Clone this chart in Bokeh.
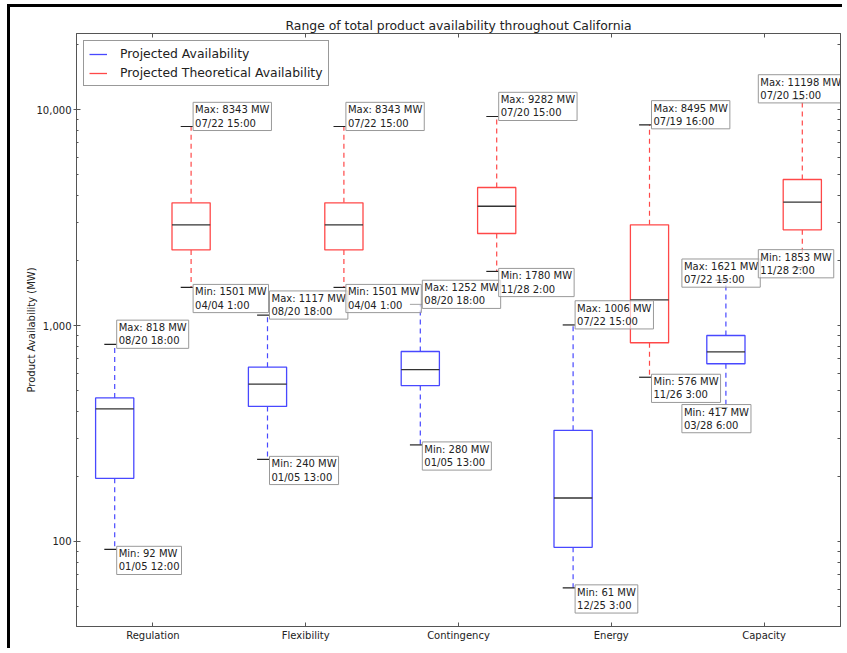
from bokeh.plotting import figure
from bokeh.models import (ColumnDataSource, Range1d, LogAxis, LinearAxis, InlineStyleSheet,
                          Legend, LegendItem, FixedTicker, NumeralTickFormatter)
from bokeh.core.properties import value
from bokeh.embed import file_html
from bokeh.resources import INLINE

# ---------------- data ----------------
categories = ["Regulation", "Flexibility", "Contingency", "Energy", "Capacity"]

avail_min = [92, 240, 280, 61, 417]
avail_q1 = [196, 422, 527, 94, 665]
avail_med = [411, 535, 625, 159, 755]
avail_q3 = [462, 641, 758, 327, 899]
avail_max = [818, 1117, 1252, 1006, 1621]
avail_min_time = ["01/05 12:00", "01/05 13:00", "01/05 13:00", "12/25 3:00", "03/28 6:00"]
avail_max_time = ["08/20 18:00", "08/20 18:00", "08/20 18:00", "07/22 15:00", "07/22 15:00"]

theo_min = [1501, 1501, 1780, 576, 1853]
theo_q1 = [2239, 2239, 2667, 832, 2774]
theo_med = [2925, 2925, 3565, 1315, 3725]
theo_q3 = [3698, 3698, 4355, 2925, 4742]
theo_max = [8343, 8343, 9282, 8495, 11198]
theo_min_time = ["04/04 1:00", "04/04 1:00", "11/28 2:00", "11/26 3:00", "11/28 2:00"]
theo_max_time = ["07/22 15:00", "07/22 15:00", "07/20 15:00", "07/19 16:00", "07/20 15:00"]

y_ticks = [100, 1000, 10000]
series_names = ["Projected Availability", "Projected Theoretical Availability"]

# ---------------- styling ----------------
FONT = "DejaVu Sans"
BLUE = "#4848ff"
RED = "#ff4848"
AX = "#555555"
TXT = "#222222"

positions = [i + 1 for i in range(len(categories))]

p = figure(width=835, height=644,
           x_range=Range1d(0.5, len(categories) + 0.5),
           y_range=Range1d(40.4, 22490), y_axis_type="log",
           output_backend="svg", toolbar_location=None,
           min_border_left=66, min_border_right=5, min_border_top=26, min_border_bottom=25,
           title="Range of total product availability throughout California")
# dark frame along the top and left edges of the picture
p.stylesheets = [InlineStyleSheet(css=":host { margin-left: 7px; margin-top: 4px; "
                                      "border-top: 3px solid black; border-left: 3px solid black; }")]

p.title.align = "center"
p.title.text_font = FONT
p.title.text_font_size = "12.4px"
p.title.text_font_style = "normal"
p.title.text_color = TXT
p.title.standoff = 2

p.grid.visible = False
p.outline_line_color = AX
p.outline_line_width = 1
p.background_fill_color = "white"
p.border_fill_color = "white"

minor = [m * 10 ** e for e in (1, 2, 3, 4) for m in range(2, 10)]

# left axis
ya = p.yaxis[0]
ya.ticker = FixedTicker(ticks=y_ticks, minor_ticks=minor)
ya.formatter = NumeralTickFormatter(format="0,0")
ya.axis_label = "Product Availability (MW)"
ya.axis_label_text_font = FONT
ya.axis_label_text_font_size = "10px"
ya.axis_label_text_font_style = "normal"
ya.axis_label_text_color = TXT
ya.axis_label_standoff = -3
ya.major_label_text_font = FONT
ya.major_label_text_font_size = "10px"
ya.major_label_text_color = TXT
ya.major_label_standoff = 2
ya.major_tick_in = 4
ya.major_tick_out = 3
ya.minor_tick_in = 2
ya.minor_tick_out = 0
ya.axis_line_color = AX
ya.major_tick_line_color = AX
ya.minor_tick_line_color = AX

# bottom axis
xa = p.xaxis[0]
xa.ticker = FixedTicker(ticks=positions, minor_ticks=[])
xa.major_label_overrides = {pos: c for pos, c in zip(positions, categories)}
xa.major_label_text_font = FONT
xa.major_label_text_font_size = "10px"
xa.major_label_text_color = TXT
xa.major_label_standoff = 3
xa.major_tick_in = 4
xa.major_tick_out = 0
xa.axis_line_color = AX
xa.major_tick_line_color = AX

# right axis (ticks only, no labels)
ra = LogAxis(ticker=FixedTicker(ticks=[], minor_ticks=minor + y_ticks),
             minor_tick_in=3, minor_tick_out=0,
             axis_line_color=AX, minor_tick_line_color=AX)
p.add_layout(ra, "right")

# top axis (ticks only, no labels)
ta = LinearAxis(ticker=FixedTicker(ticks=[], minor_ticks=positions),
                minor_tick_in=4, minor_tick_out=0,
                axis_line_color=AX, minor_tick_line_color=AX)
p.add_layout(ta, "above")

series = [
    (-0.25, BLUE, avail_min, avail_q1, avail_med, avail_q3, avail_max, avail_min_time, avail_max_time),
    (0.25, RED, theo_min, theo_q1, theo_med, theo_q3, theo_max, theo_min_time, theo_max_time),
]

BOX_W = 0.25
sources = []
legend_items = []
for (off, color, mn, q1, md, q3, mx, tmin, tmax), name in zip(series, series_names):
    xs = [x + off for x in positions]
    # label placement: shift labels left near the right edge
    dx = [-44 if c == "Capacity" else 2 for c in categories]
    dy_max = [7 if (c == "Capacity" and off < 0) else 4 for c in categories]
    dy_min = [-18 if (c == "Capacity" and off > 0) else -3 for c in categories]
    src = ColumnDataSource(dict(
        x=xs,
        cap_l=[x - 0.068 for x in xs], cap_r=[x + 0.012 for x in xs],
        med_l=[x - BOX_W / 2 for x in xs], med_r=[x + BOX_W / 2 for x in xs],
        lo=mn, q1=q1, med=md, q3=q3, hi=mx,
        max_label=[f"Max: {v} MW\n{t}" for v, t in zip(mx, tmax)],
        min_label=[f"Min: {v} MW\n{t}" for v, t in zip(mn, tmin)],
        dx=dx, dy_max=dy_max, dy_min=dy_min,
    ))
    sources.append(src)
    # whiskers
    p.segment(x0="x", y0="q3", x1="x", y1="hi", line_color=color, line_width=1.2,
              line_dash="5 4", source=src)
    p.segment(x0="x", y0="q1", x1="x", y1="lo", line_color=color, line_width=1.2,
              line_dash="5 4", source=src)
    # caps
    for col in ("hi", "lo"):
        p.segment(x0="cap_l", y0=col, x1="cap_r", y1=col,
                  line_color=TXT, line_width=1.2, source=src)
    # box
    p.vbar(x="x", width=BOX_W, bottom="q1", top="q3", fill_color="white",
           line_color=color, line_width=1.3, source=src)
    # median
    p.segment(x0="med_l", y0="med", x1="med_r", y1="med",
              line_color="#333333", line_width=1.3, source=src)
    # legend proxy (hidden line, drawn only in the legend)
    lr = p.line(x="x", y="med", line_color=color, line_width=1.3, source=src, visible=False)
    legend_items.append(LegendItem(label=name, renderers=[lr]))

for src in sources:
    common = dict(text_font=value(FONT), text_font_size="10px", text_line_height=1.2,
                  text_color=TXT, background_fill_color="white",
                  background_fill_alpha=0.65, border_line_color="#999999",
                  border_line_width=1, padding=2, source=src)
    p.text(x="x", y="hi", text="max_label", x_offset="dx", y_offset="dy_max",
           anchor="bottom_left", **common)
    p.text(x="x", y="lo", text="min_label", x_offset="dx", y_offset="dy_min",
           anchor="top_left", **common)

legend = Legend(items=legend_items, location="top_left", margin=7, padding=5,
                spacing=4, label_height=14, glyph_height=14, glyph_width=18,
                label_standoff=13, label_text_font=FONT, label_text_font_size="12.4px",
                label_text_color=TXT, border_line_color="#333333",
                border_line_width=1, background_fill_alpha=1.0,
                inactive_fill_alpha=0.0, click_policy="none")
p.add_layout(legend)

open("out.html", "w").write(file_html(p, INLINE))
